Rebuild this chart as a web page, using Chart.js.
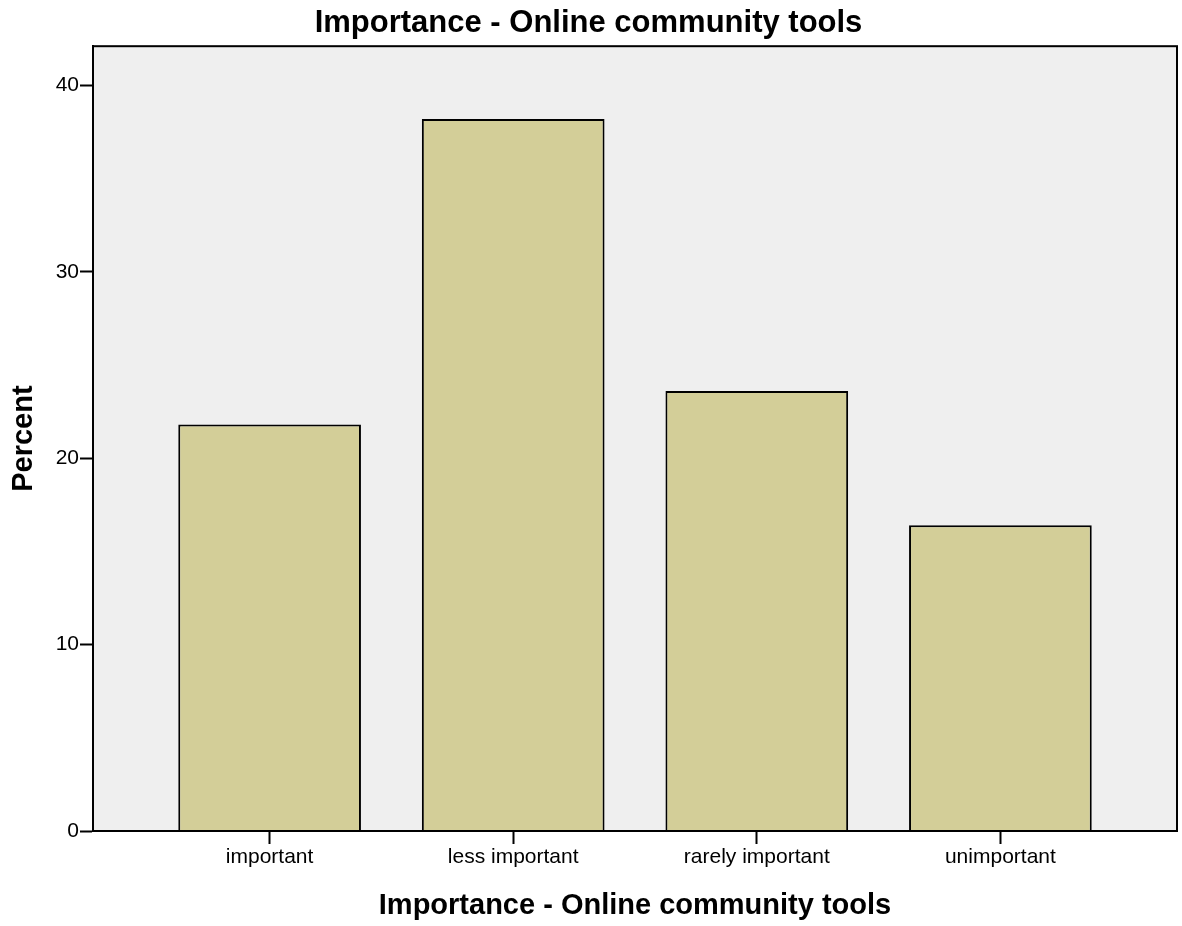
<!DOCTYPE html>
<html>
<head>
    <script src="https://cdn.jsdelivr.net/npm/chart.js@4"></script>
    <style>
        body {
            margin: 0;
            background-color: #ffffff;
        }
        #wrap {
            width: 1182px;
            height: 926px;
            position: relative;
        }
    </style>
</head>
<body>
    <div id="wrap"><canvas id="chart"></canvas></div>
    <script>
        // data
        const categories = ['important', 'less important', 'rarely important', 'unimportant'];
        const percentValues = [21.8, 38.2, 23.6, 16.4];
        const yTickValues = [0, 10, 20, 30, 40];
        const chartTitle = 'Importance - Online community tools';
        const xAxisTitle = 'Importance - Online community tools';
        const yAxisTitle = 'Percent';

        const FONT = "Arial, 'Liberation Sans', sans-serif";

        // grey plot background + frame round the chart area
        const plotFrame = {
            id: 'plotFrame',
            beforeDatasetsDraw(chart) {
                const a = chart.chartArea;
                const ctx = chart.ctx;
                ctx.save();
                ctx.fillStyle = '#efefef';
                ctx.fillRect(a.left, a.top, a.right - a.left, a.bottom - a.top);
                ctx.restore();
            },
            afterDraw(chart) {
                const a = chart.chartArea;
                const ctx = chart.ctx;
                ctx.save();
                ctx.strokeStyle = '#000';
                ctx.lineWidth = 2;
                ctx.strokeRect(a.left, a.top, a.right - a.left, a.bottom - a.top);
                ctx.restore();
            }
        };

        const ctx = document.getElementById('chart').getContext('2d');
        const chart = new Chart(ctx, {
            type: 'bar',
            data: {
                datasets: [{
                    label: yAxisTitle,
                    data: percentValues.map((v, i) => ({ x: i, y: v })),
                    backgroundColor: '#d3ce98',
                    borderColor: '#000000',
                    borderWidth: 2,
                    barPercentage: 0.75,
                    categoryPercentage: 1
                }]
            },
            options: {
                responsive: true,
                maintainAspectRatio: false,
                devicePixelRatio: 1,
                animation: false,
                layout: {
                    padding: { left: 0, right: 5, top: 0, bottom: 0 }
                },
                plugins: {
                    legend: { display: false },
                    tooltip: { enabled: false },
                    title: {
                        display: true,
                        text: chartTitle,
                        color: '#000',
                        font: { family: FONT, size: 31, weight: 'bold' },
                        padding: { top: 5, bottom: 4 }
                    }
                },
                scales: {
                    x: {
                        type: 'linear',
                        min: -0.725,
                        max: 3.725,
                        offset: false,
                        afterBuildTicks: (scale) => {
                            scale.ticks = categories.map((c, i) => ({ value: i }));
                        },
                        afterFit: (scale) => { scale.height = 95; },
                        ticks: {
                            color: '#000',
                            padding: 1,
                            maxRotation: 0,
                            font: { family: FONT, size: 21 },
                            callback: (value) => categories[value]
                        },
                        grid: {
                            offset: false,
                            drawOnChartArea: false,
                            tickLength: 13,
                            tickWidth: 2,
                            tickColor: '#000'
                        },
                        border: { display: true, color: '#000', width: 2 },
                        title: {
                            display: true,
                            text: xAxisTitle,
                            color: '#000',
                            font: { family: FONT, size: 29, weight: 'bold' },
                            padding: { top: 0, bottom: 3 }
                        }
                    },
                    y: {
                        min: 0,
                        max: 42.1,
                        afterBuildTicks: (scale) => {
                            scale.ticks = yTickValues.map(v => ({ value: v }));
                        },
                        afterFit: (scale) => { scale.width = 93; },
                        ticks: {
                            color: '#000',
                            padding: 1,
                            font: { family: FONT, size: 21 }
                        },
                        grid: {
                            drawOnChartArea: false,
                            tickLength: 13,
                            tickWidth: 2,
                            tickColor: '#000'
                        },
                        border: { display: true, color: '#000', width: 2 },
                        title: {
                            display: true,
                            text: yAxisTitle,
                            color: '#000',
                            font: { family: FONT, size: 29, weight: 'bold' },
                            padding: { top: 7, bottom: 0 }
                        }
                    }
                }
            },
            plugins: [plotFrame]
        });
    </script>
</body>
</html>
